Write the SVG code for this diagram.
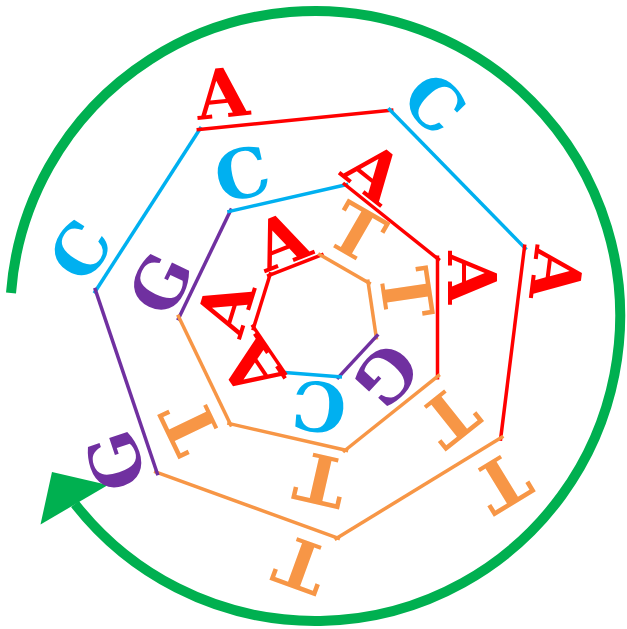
<svg xmlns="http://www.w3.org/2000/svg" width="627" height="629" viewBox="0 0 627 629">
<style>
text{font-family:"DejaVu Serif",serif;font-weight:bold;font-size:68px;text-anchor:middle}
line{stroke-width:3.5;stroke-linecap:butt}
.r{fill:#FF0000}.b{fill:#00B0F0}.o{fill:#F79646}.p{fill:#7030A0}
line.r{stroke:#FF0000}line.b{stroke:#00B0F0}line.o{stroke:#F79646}line.p{stroke:#7030A0}
</style>
<rect width="627" height="629" fill="#fff"/>
<g id="connectors">
<path d="M11 293 A305 305 0 1 1 75 504" fill="none" stroke="#00B050" stroke-width="10"/>
<polygon points="52,472 40.5,524.5 108,485" fill="#00B050"/>
</g>
<g id="outer">
<g id="o0"><line class="b" x1="94.1" y1="293.2" x2="201.2" y2="127"/><text class="b" transform="translate(80,250) rotate(-57.19)" y="25">C</text></g>
<g id="o1"><line class="r" x1="196.6" y1="129.8" x2="393.4" y2="110"/><text class="r" transform="translate(222,92.5) rotate(-5.76)" y="25">A</text></g>
<g id="o2"><line class="b" x1="388.3" y1="108.2" x2="526.5" y2="249.6"/><text class="b" transform="translate(435,103) rotate(45.67)" y="25">C</text></g>
<g id="o3"><line class="r" x1="524.8" y1="244.5" x2="500.4" y2="440.8"/><text class="r" transform="translate(557,274) rotate(97.1)" y="25">A</text></g>
<g id="o4"><line class="o" x1="503.4" y1="436.2" x2="334.6" y2="539.5"/><text class="o" transform="translate(502,483) rotate(148.53)" y="25">T</text></g>
<g id="o5"><line class="o" x1="340" y1="538.9" x2="154.1" y2="471.4"/><text class="o" transform="translate(301,565) rotate(199.96)" y="25">T</text></g>
<g id="o6"><line class="p" x1="157.9" y1="475.2" x2="94.7" y2="287.9"/><text class="p" transform="translate(115,461) rotate(251.39)" y="25">G</text></g>
</g>
<g id="middle">
<g id="m0"><line class="p" x1="177.7" y1="320.2" x2="231.5" y2="208.5"/><text class="p" transform="translate(160,283) rotate(-64.29)" y="25">G</text></g>
<g id="m1"><line class="b" x1="227.3" y1="211.9" x2="348.2" y2="184.2"/><text class="b" transform="translate(242,173) rotate(-12.86)" y="25">C</text></g>
<g id="m2"><line class="r" x1="343" y1="183" x2="439.8" y2="260.4"/><text class="r" transform="translate(374.5,171.5) rotate(38.57)" y="25">A</text></g>
<g id="m3"><line class="r" x1="437.5" y1="255.5" x2="437.5" y2="379.5"/><text class="r" transform="translate(473,277.5) rotate(90)" y="25">A</text></g>
<g id="m4"><line class="o" x1="439.8" y1="374.6" x2="343" y2="452"/><text class="o" transform="translate(449.5,417) rotate(141.43)" y="25">T</text></g>
<g id="m5"><line class="o" x1="348.2" y1="450.8" x2="227.3" y2="423.1"/><text class="o" transform="translate(320.5,480) rotate(192.86)" y="25">T</text></g>
<g id="m6"><line class="o" x1="231.5" y1="426.5" x2="177.7" y2="314.8"/><text class="o" transform="translate(190,426.5) rotate(244.29)" y="25">T</text></g>
</g>
<g id="inner">
<g id="i0"><line class="r" x1="252.8" y1="330.2" x2="270.8" y2="272.2"/><text class="r" transform="translate(225,307) rotate(-72.79)" y="25">A</text></g>
<g id="i1"><line class="r" x1="267.1" y1="276.2" x2="323.6" y2="254.1"/><text class="r" transform="translate(281,240) rotate(-21.36)" y="25">A</text></g>
<g id="i2"><line class="o" x1="318.2" y1="253.7" x2="370.7" y2="284.1"/><text class="o" transform="translate(357,232) rotate(30.07)" y="25">T</text></g>
<g id="i3"><line class="o" x1="367.7" y1="279.6" x2="376.6" y2="339.6"/><text class="o" transform="translate(407,293) rotate(81.5)" y="25">T</text></g>
<g id="i4"><line class="p" x1="378.2" y1="334.4" x2="337" y2="378.9"/><text class="p" transform="translate(386.5,375.5) rotate(132.93)" y="25">G</text></g>
<g id="i5"><line class="b" x1="342" y1="376.9" x2="281.4" y2="372.3"/><text class="b" transform="translate(319,407) rotate(184.36)" y="25">C</text></g>
<g id="i6"><line class="r" x1="286.1" y1="375" x2="252" y2="324.8"/><text class="r" transform="translate(251,369) rotate(235.79)" y="25">A</text></g>
</g>
</svg>
